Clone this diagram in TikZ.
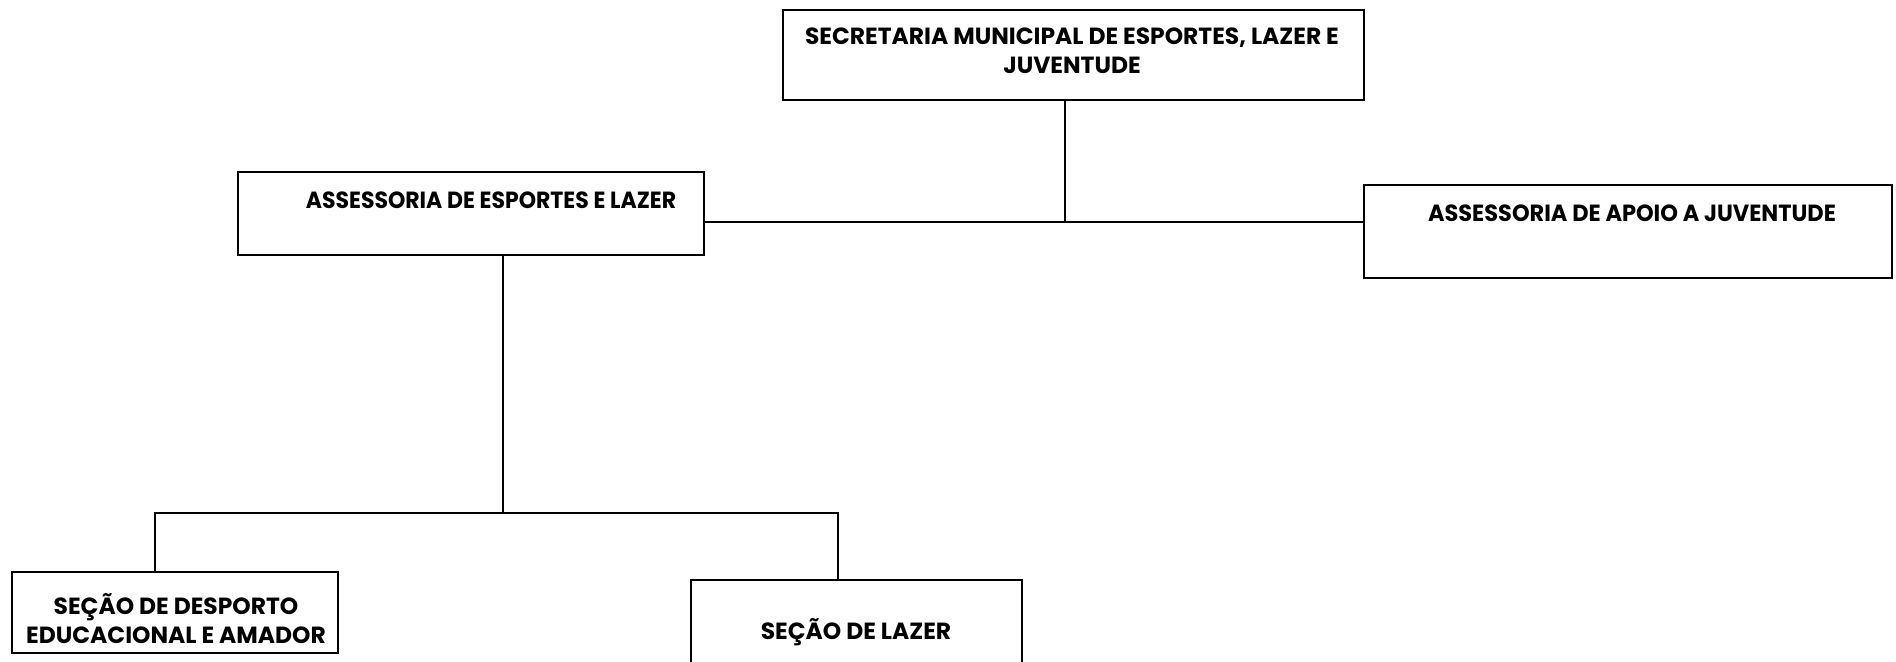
\documentclass[tikz,border=0pt]{standalone}
\usepackage{fontspec}
\usepackage{graphicx}
\setmainfont{Poppins}
\begin{document}
\begin{tikzpicture}[x=0.5pt,y=-0.5pt]
\tikzset{
  box/.style={draw=black, line width=1.1pt, fill=white, rectangle, inner sep=0pt},
  lbl/.style={font=\fontsize{11.7}{14.5}\selectfont\bfseries, align=center, inner sep=0pt},
  link/.style={draw=black, line width=1.1pt}
}
\clip (0,0) rectangle (1896,662);
\fill[white] (0,0) rectangle (1896,662);
% boxes
\node[box, minimum width=290.5pt, minimum height=45pt] (T) at (1073.5,55) {};
\node[box, minimum width=233pt, minimum height=41.5pt] (L) at (471,213.5) {};
\node[box, minimum width=264pt, minimum height=46.5pt] (R) at (1628,231.5) {};
\node[box, minimum width=163pt, minimum height=40.5pt] (BL) at (175,612.5) {};
\node[box, minimum width=165.5pt, minimum height=50pt] (BR) at (856.5,630) {};
% labels
\node[lbl] (tT) at (1072,51) {SECRETARIA MUNICIPAL DE ESPORTES, LAZER E\\JUVENTUDE};
\node[lbl] (tL) at (491,200) {\scalebox{0.94}[1]{ASSESSORIA DE ESPORTES E LAZER}};
\node[lbl] (tR) at (1632,213) {\scalebox{0.96}[1]{ASSESSORIA DE APOIO A JUVENTUDE}};
\node[lbl] (tBL) at (176,619) {SEÇÃO DE DESPORTO\\EDUCACIONAL E AMADOR};
\node[lbl] (tBR) at (856,632) {SEÇÃO DE LAZER};
% junctions
\coordinate (j1) at (1065,222);
\coordinate (j2) at (503,513);
\coordinate (j3) at (155,513);
\coordinate (j4) at (838,513);
% connectors
\draw[link] (T.south -| j1) -- (j1);
\draw[link] (L.east |- j1) -- (R.west |- j1);
\draw[link] (L.south -| j2) -- (j2);
\draw[link] (BL.north -| j3) -- (j3) -- (j4) -- (BR.north -| j4);
\end{tikzpicture}
\end{document}
